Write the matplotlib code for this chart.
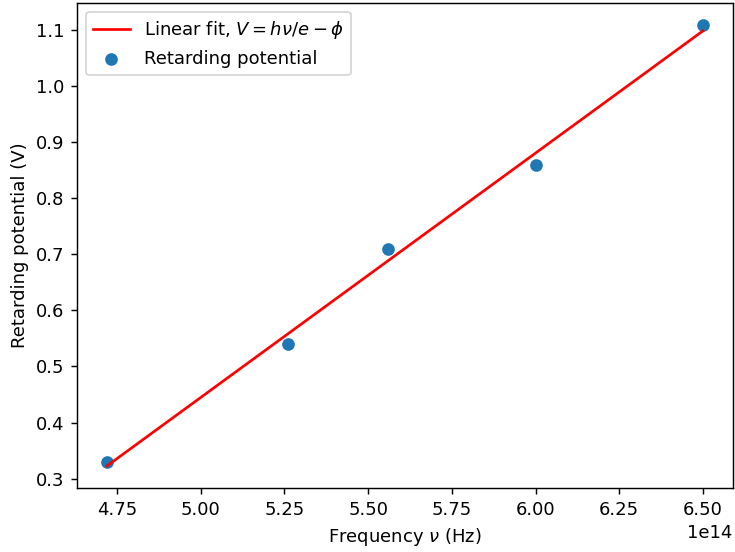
import matplotlib
matplotlib.use("Agg")
import matplotlib.pyplot as plt
import numpy as np

# measured frequencies (Hz) and retarding potentials (V)
freq = np.array([4.72e14, 5.26e14, 5.56e14, 6.00e14, 6.50e14])
volts = np.array([0.33, 0.54, 0.71, 0.86, 1.11])

slope, icept = np.polyfit(freq, volts, 1)
fit = slope * freq + icept

dpi = 130
fig, ax = plt.subplots(figsize=(735 / dpi, 552 / dpi), dpi=dpi)
ax.plot(freq, fit, color="red", label=r"Linear fit, $V = h\nu/e - \phi$")
ax.scatter(freq, volts, color="C0", label="Retarding potential")

ax.set_xlabel(r"Frequency $\nu$ (Hz)")
ax.set_ylabel("Retarding potential (V)")
ax.legend(loc="upper left")

fig.subplots_adjust(left=0.105, right=0.997, top=0.995, bottom=0.116)
fig.savefig("out.png", dpi=dpi)
